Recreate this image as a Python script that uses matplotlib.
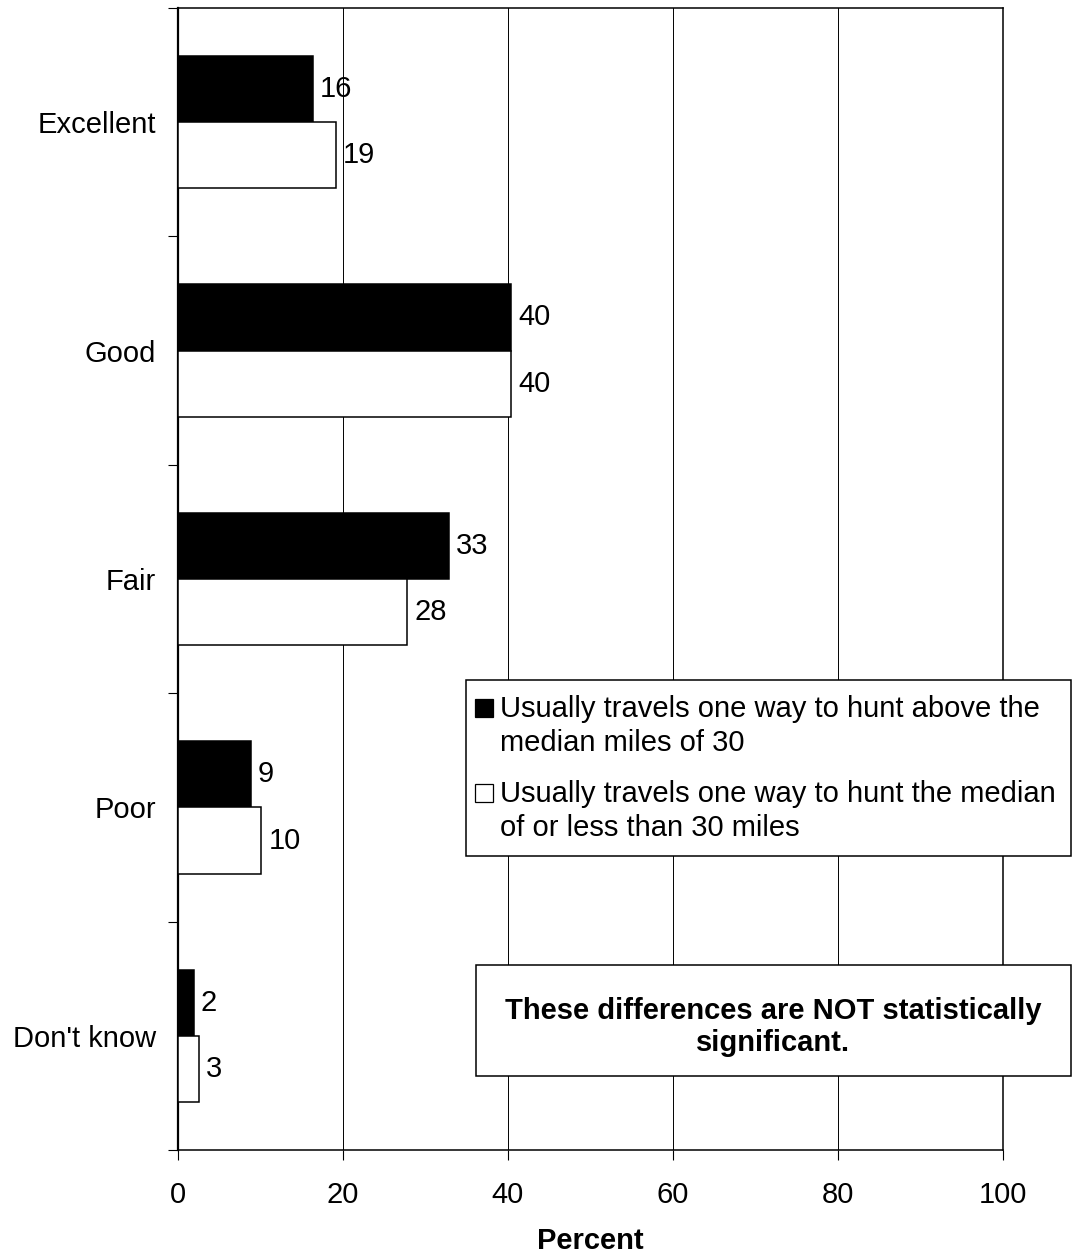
import matplotlib
matplotlib.use("Agg")
import matplotlib.pyplot as plt
from matplotlib.patches import Rectangle
import numpy as np

plt.rcParams['font.family'] = ['Liberation Sans', 'DejaVu Sans']

# ----------------------------
# data
# ----------------------------
categories = ["Excellent", "Good", "Fair", "Poor", "Don't know"]
above_median = [16.4, 40.4, 32.8, 8.8, 1.9]
median_or_less = [19.1, 40.4, 27.8, 10.1, 2.5]
above_labels = [16, 40, 33, 9, 2]
below_labels = [19, 40, 28, 10, 3]
series_names = ["Usually travels one way to hunt above the\nmedian miles of 30",
                "Usually travels one way to hunt the median\nof or less than 30 miles"]
note = "These differences are NOT statistically\nsignificant."
x_ticks = [0, 20, 40, 60, 80, 100]

FS = 21
W, H = 1073, 1257


def fx(px):
    return px / W


def fy(py):
    return 1 - py / H


fig = plt.figure(figsize=(W / 100, H / 100), dpi=100)
ax = fig.add_axes([178 / W, 107 / H, 825 / W, 1142 / H])

# ----------------------------
# bars
# ----------------------------
y = np.arange(len(categories))
bh = 0.29
ax.barh(y - bh / 2, above_median, height=bh, color='black', edgecolor='black', linewidth=1.1, zorder=3)
ax.barh(y + bh / 2, median_or_less, height=bh, color='white', edgecolor='black', linewidth=1.1, zorder=3)

for yy, v, lab in zip(y, above_median, above_labels):
    ax.annotate(str(lab), (v, yy - bh / 2), xytext=(5, 0), textcoords='offset points',
                va='center', ha='left', fontsize=FS)
for yy, v, lab in zip(y, median_or_less, below_labels):
    ax.annotate(str(lab), (v, yy + bh / 2), xytext=(5, 0), textcoords='offset points',
                va='center', ha='left', fontsize=FS)

# ----------------------------
# axes
# ----------------------------
ax.set_xlim(0, 100)
ax.set_ylim(len(categories) - 0.5, -0.5)
ax.set_xticks(x_ticks)
ax.set_yticks(y)
ax.set_yticklabels(categories)
ax.set_yticks(np.arange(-0.5, len(categories), 1), minor=True)
ax.tick_params(axis='y', which='major', length=0, pad=16, labelsize=FS)
ax.tick_params(axis='y', which='minor', length=7, width=0.8, direction='out')
ax.tick_params(axis='x', length=7, width=0.8, pad=15, labelsize=FS)
ax.xaxis.grid(True, color='black', linewidth=0.7)
ax.set_axisbelow(True)
for s in ['top', 'right', 'bottom']:
    ax.spines[s].set_linewidth(1.1)
ax.spines['left'].set_linewidth(1.6)
ax.set_xlabel("Percent", fontsize=FS, fontweight='bold', labelpad=13)

# ----------------------------
# legend (drawn by hand, box sticks out of the plot)
# ----------------------------
fig.add_artist(Rectangle((fx(466), fy(856)), fx(1071) - fx(466), (856 - 680) / H,
                         transform=fig.transFigure, facecolor='white', edgecolor='black', linewidth=1.1))
for i, (name, col) in enumerate(zip(series_names, ['black', 'white'])):
    top = 699 + i * 85
    fig.add_artist(Rectangle((fx(475), fy(top + 18)), 18 / W, 18 / H, transform=fig.transFigure,
                             facecolor=col, edgecolor='black', linewidth=0.9))
    fig.text(fx(500), fy(top + 27), name, fontsize=FS, va='center', ha='left', linespacing=1.3)

# note box
fig.add_artist(Rectangle((fx(476), fy(1076)), fx(1071) - fx(476), (1076 - 965) / H,
                         transform=fig.transFigure, facecolor='white', edgecolor='black', linewidth=1.1))
fig.text(fx(773), fy(1027), note, fontsize=FS, fontweight='bold', va='center', ha='center',
         multialignment='center', linespacing=1.2)

fig.savefig('out.png', dpi=100)
